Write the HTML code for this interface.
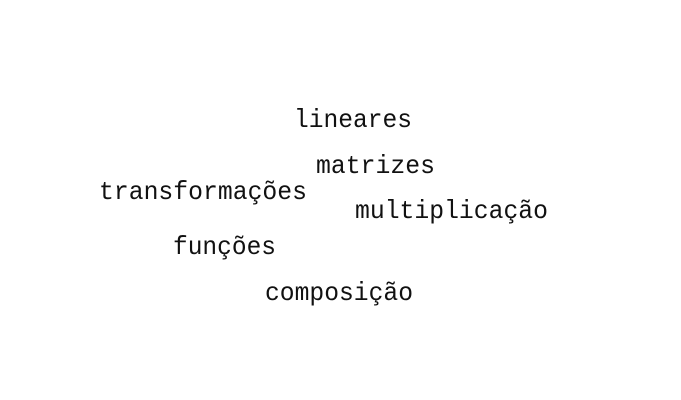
<!DOCTYPE html>
<html><head><meta charset="utf-8"><style>
html,body{margin:0;padding:0;background:#fff;}
svg{display:block}
text{font-family:"Liberation Mono","DejaVu Sans Mono",monospace;font-size:26px;fill:#111;}
</style></head><body>
<svg width="681" height="400" xmlns="http://www.w3.org/2000/svg">
<rect width="681" height="400" fill="#fff"/>
<text x="294" y="127" textLength="118" lengthAdjust="spacingAndGlyphs">lineares</text>
<text x="316" y="173" textLength="119" lengthAdjust="spacingAndGlyphs">matrizes</text>
<text x="99" y="199" textLength="208" lengthAdjust="spacingAndGlyphs">transformações</text>
<text x="355" y="218" textLength="193" lengthAdjust="spacingAndGlyphs">multiplicação</text>
<text x="173" y="254" textLength="103" lengthAdjust="spacingAndGlyphs">funções</text>
<text x="265" y="300" textLength="148" lengthAdjust="spacingAndGlyphs">composição</text>
</svg>
</body></html>
